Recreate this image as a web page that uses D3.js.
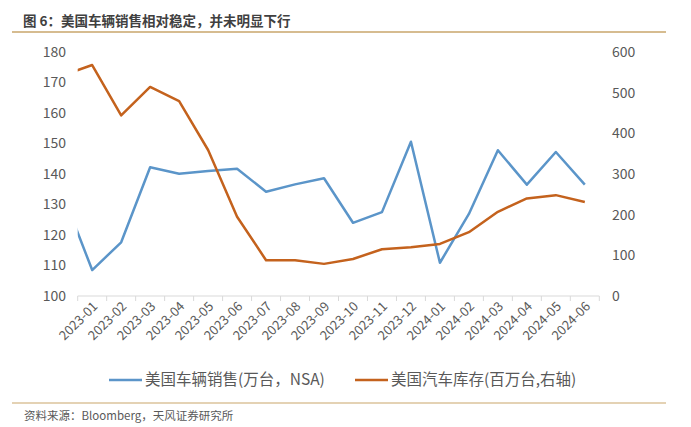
<!DOCTYPE html>
<html><head><meta charset="utf-8">
<script src="https://cdn.jsdelivr.net/npm/d3@7"></script>
<style>body{margin:0;background:#fff}svg text{font-family:"Noto Sans CJK SC","Noto Sans",sans-serif}</style>
</head><body><svg id="c" width="691" height="427"></svg>
<script>
// categories (first one lies just left of the visible axis and is clipped)
const months = ["2022-12","2023-01","2023-02","2023-03","2023-04","2023-05","2023-06","2023-07","2023-08","2023-09","2023-10","2023-11","2023-12","2024-01","2024-02","2024-03","2024-04","2024-05","2024-06"];
const sales = [133.1,108.5,117.6,142.2,140.1,141.0,141.7,134.2,136.6,138.6,124.0,127.5,150.6,110.9,126.9,147.8,136.5,147.2,136.5];
const inventory = [543,568,444,514,479,359,195,88,88,79,91,115,120,128,157,207,240,248,231];
const leftTicks = [100,110,120,130,140,150,160,170,180];
const rightTicks = [0,100,200,300,400,500,600];
const labeled = months.slice(1);
const seriesNames = ["美国车辆销售(万台，NSA)","美国汽车库存(百万台,右轴)"];
const titleText = "图 6：美国车辆销售相对稳定，并未明显下行";
const sourceText = "资料来源：Bloomberg，天风证券研究所";

const svg = d3.select("#c");
const W = 691, H = 427;
const L = 77.7, R = 599.3, T = 52, B = 296;
const blue = "#5b95c9", orange = "#c4621d", grey = "#595959";

const x = d3.scaleLinear().domain([0, labeled.length]).range([L, R]);
const yL = d3.scaleLinear().domain([100,180]).range([B,T]);
const yR = d3.scaleLinear().domain([0,600]).range([B,T]);
const pos = j => x(j - 0.5); // index in months -> x

// title
svg.append("text").attr("x",23).attr("y",26).attr("font-size",13.5).attr("font-weight","bold").attr("fill","#404040").text(titleText);
svg.append("line").attr("x1",12).attr("x2",666).attr("y1",32).attr("y2",32).attr("stroke","#c9a66b").attr("stroke-width",1.5);

// axis line + ticks
svg.append("line").attr("x1",L).attr("x2",R).attr("y1",B).attr("y2",B).attr("stroke","#d9d9d9").attr("stroke-width",1);
svg.selectAll(".tk").data(d3.range(labeled.length+1)).join("line")
  .attr("x1",d=>x(d)).attr("x2",d=>x(d)).attr("y1",B).attr("y2",B+5).attr("stroke","#d9d9d9");

// left labels
svg.selectAll(".ll").data(leftTicks).join("text")
  .attr("x",66).attr("y",d=>yL(d)).attr("dy","0.35em").attr("text-anchor","end")
  .attr("font-size",14).attr("fill",grey).text(d=>d);
svg.selectAll(".rl").data(rightTicks).join("text")
  .attr("x",612).attr("y",d=>yR(d)).attr("dy","0.35em").attr("text-anchor","start")
  .attr("font-size",14).attr("fill",grey).text(d=>d);

// x labels
svg.selectAll(".xl").data(labeled).join("text")
  .attr("transform",(d,i)=>`translate(${x(i+0.5)+3},${B+8}) rotate(-45)`)
  .attr("text-anchor","end").attr("dy","0.35em")
  .attr("font-size",13).attr("fill",grey).text(d=>d);

// clip
svg.append("clipPath").attr("id","clip").append("rect").attr("x",L).attr("y",0).attr("width",R-L).attr("height",H);
const g = svg.append("g").attr("clip-path","url(#clip)");
const lineS = d3.line().x((d,j)=>pos(j)).y(d=>yL(d));
const lineI = d3.line().x((d,j)=>pos(j)).y(d=>yR(d));
g.append("path").attr("d",lineS(sales)).attr("fill","none").attr("stroke",blue).attr("stroke-width",2.5).attr("stroke-linejoin","round");
g.append("path").attr("d",lineI(inventory)).attr("fill","none").attr("stroke",orange).attr("stroke-width",2.5).attr("stroke-linejoin","round");

// legend
const leg = [{x:109,c:blue,t:seriesNames[0]},{x:355,c:orange,t:seriesNames[1]}];
leg.forEach(l=>{
  svg.append("line").attr("x1",l.x).attr("x2",l.x+33).attr("y1",380).attr("y2",380).attr("stroke",l.c).attr("stroke-width",2.5);
  svg.append("text").attr("x",l.x+36).attr("y",380).attr("dy","0.35em").attr("font-size",15.5).attr("fill",grey).text(l.t);
});

// source
svg.append("line").attr("x1",12).attr("x2",666).attr("y1",403).attr("y2",403).attr("stroke","#c9a66b").attr("stroke-width",1.2);
svg.append("text").attr("x",24).attr("y",416).attr("dy","0.35em").attr("font-size",11.5).attr("fill",grey).text(sourceText);
</script></body></html>
